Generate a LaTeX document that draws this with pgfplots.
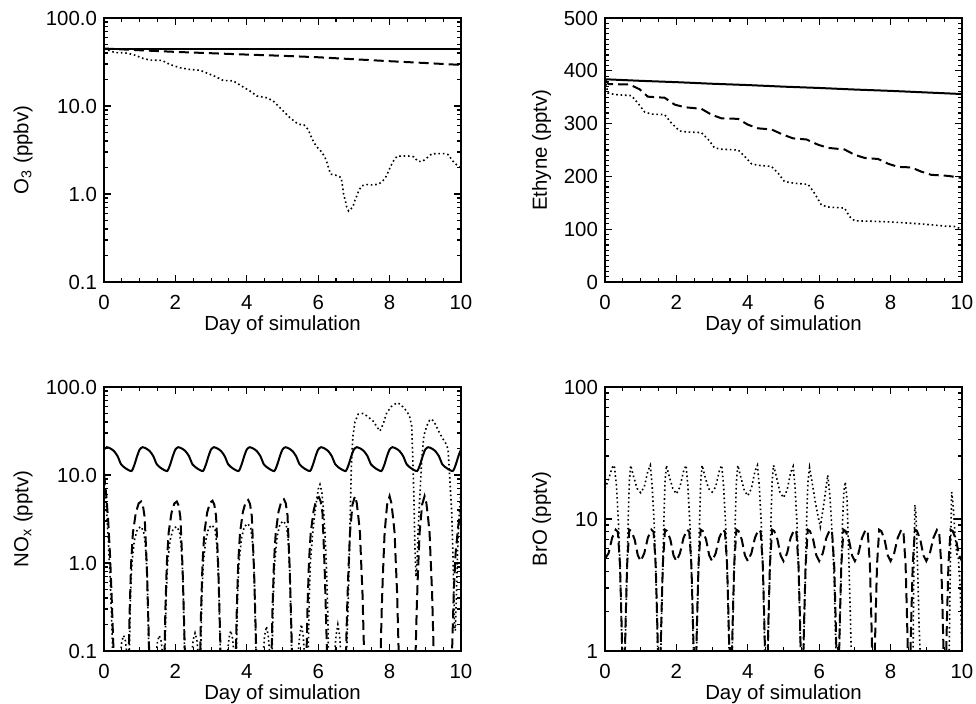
\documentclass[border=0pt]{standalone}
\usepackage{fontspec}
\setmainfont{Liberation Sans}
\usepackage{pgfplots}
\pgfplotsset{compat=1.18}
\newcommand{\ff}{\fontsize{10.2}{12}\selectfont}
\pgfplotsset{
 myax/.style={
  scale only axis, width=178.5pt, height=132pt,
  xmin=0, xmax=10, xtick={0,2,4,6,8,10}, xticklabels={0,2,4,6,8,10}, minor x tick num=3,
  axis line style={line width=0.65pt},
  every tick/.style={black, line width=0.55pt},
  major tick length=3.5pt, minor tick length=1.8pt,
  tick align=inside,
  ticklabel style={font=\ff},
  xticklabel style={yshift=-3.1pt},
  xlabel={Day of simulation},
  every axis x label/.style={at={(axis description cs:0.5,0)}, anchor=base, yshift=-24pt, font=\ff},
 },
 ylab/.style={every axis y label/.style={at={(axis description cs:0,0.5)}, xshift=-#1, rotate=90, anchor=south, inner sep=0pt, font=\ff}},
 solidl/.style={black, line width=1pt},
 dashl/.style={black, line width=1pt, dash pattern=on 5pt off 2.5pt},
 dotl/.style={black, line width=0.8pt, dash pattern=on 0.8pt off 1.4pt},
}
\begin{document}
\begin{tikzpicture}
\useasboundingbox (0,0) rectangle (488pt,351.5pt);
% Panel 1: O3
\begin{axis}[myax, at={(52pt,210.5pt)}, anchor=south west, ylab=35.5pt,
  ymode=log, ymin=0.1, ymax=100, ytick={0.1,1,10,100}, yticklabels={0.1,1.0,10.0,100.0},
  minor ytick={0.2,0.3,0.4,0.5,0.6,0.7,0.8,0.9,2,3,4,5,6,7,8,9,20,30,40,50,60,70,80,90},
  ylabel={O\textsubscript{3} (ppbv)}]
\addplot[solidl] coordinates {(0,45)(10,45)};
\addplot[dashl] coordinates {(0,45)(1,43)(2,41.2)(3,39.8)(4,38.4)(5,37.2)(6,35.8)(7,34)(8,32.3)(9,30.8)(10,29.3)};
\addplot[dotl] coordinates {(0,45)(0.3,40.5)(0.59,40.2)(0.82,38.4)(1.1,34.7)(1.29,33.2)(1.62,33)(1.85,29.6)(2.13,27.2)(2.41,26)(2.69,25.5)(2.88,23.7)(3.11,21.7)(3.34,19.5)(3.62,19.3)(3.86,16.8)(4.09,14.8)(4.28,13)(4.56,12.4)(4.74,11.4)(4.97,9.2)(5.2,7.4)(5.44,6.2)(5.6,6.1)(5.72,5.4)(5.82,4.3)(5.91,3.68)(6.0,3.29)(6.11,2.96)(6.19,2.6)(6.25,2.24)(6.3,1.92)(6.35,1.68)(6.5,1.63)(6.64,1.54)(6.67,1.33)(6.71,1.0)(6.76,0.84)(6.79,0.73)(6.85,0.64)(6.97,0.71)(7.02,0.83)(7.08,0.95)(7.13,1.08)(7.22,1.24)(7.36,1.28)(7.52,1.27)(7.68,1.29)(7.8,1.39)(7.9,1.58)(7.97,1.82)(8.04,2.11)(8.11,2.38)(8.21,2.69)(8.38,2.7)(8.53,2.7)(8.68,2.65)(8.79,2.35)(8.92,2.35)(9.06,2.6)(9.18,2.86)(9.37,2.88)(9.51,2.88)(9.65,2.79)(9.74,2.45)(9.85,2.19)(10,2.0)};
\end{axis}
% Panel 2: Ethyne
\begin{axis}[myax, at={(302.5pt,210.5pt)}, anchor=south west, ylab=26.8pt,
  ymin=0, ymax=500, ytick={0,100,200,300,400,500}, yticklabels={0,100,200,300,400,500},
  minor y tick num=9, ylabel={Ethyne (pptv)}]
\addplot[solidl] coordinates {(0,384)(1,381)(2,378.5)(3,375.5)(4,373)(5,370)(6,367.5)(7,364.5)(8,362)(9,359)(10,356)};
\addplot[dashl] coordinates {(0,383)(0.1,375)(0.69,374)(0.97,365)(1.2,351)(1.67,349)(1.95,336)(2.23,331)(2.7,328)(2.98,317)(3.26,310)(3.73,309)(4.0,298)(4.29,291)(4.66,289)(4.99,279)(5.27,272)(5.64,270)(5.97,260)(6.25,254)(6.71,251)(6.99,241)(7.27,235)(7.65,233)(7.93,224)(8.21,218)(8.58,217)(8.86,209)(9.14,203)(9.61,201)(10,197)};
\addplot[dotl] coordinates {(0,383)(0.08,358)(0.27,355)(0.74,353)(0.92,339)(1.11,322)(1.3,318)(1.67,317)(1.86,301)(2.09,286)(2.32,284)(2.7,283)(2.89,270)(3.07,254)(3.26,251.5)(3.73,250)(3.91,238)(4.1,224)(4.29,221)(4.66,219)(4.85,206)(5.03,190)(5.31,187)(5.69,185)(5.87,168)(6.06,146)(6.25,142)(6.71,140)(6.85,124)(6.99,116)(7.93,114)(8.86,110)(9.51,106)(9.8,105)(10,100)};
\end{axis}
% Panel 3: NOx
\begin{axis}[myax, at={(52pt,26pt)}, anchor=south west, ylab=35.5pt,
  ymode=log, ymin=0.1, ymax=100, ytick={0.1,1,10,100}, yticklabels={0.1,1.0,10.0,100.0},
  minor ytick={0.2,0.3,0.4,0.5,0.6,0.7,0.8,0.9,2,3,4,5,6,7,8,9,20,30,40,50,60,70,80,90},
  ylabel={NO\textsubscript{x} (pptv)}]
\addplot[solidl, smooth, tension=0.4] coordinates {
(0,19.5)(0.08,20.7)(0.18,20.0)(0.28,18.7)(0.38,16.4)(0.48,13.2)(0.62,11.8)(0.77,11.1)(0.85,13.0)(0.93,16.5)
(1,19.5)(1.08,20.7)(1.18,20.0)(1.28,18.7)(1.38,16.4)(1.48,13.2)(1.62,11.8)(1.77,11.1)(1.85,13.0)(1.93,16.5)
(2,19.5)(2.08,20.7)(2.18,20.0)(2.28,18.7)(2.38,16.4)(2.48,13.2)(2.62,11.8)(2.77,11.1)(2.85,13.0)(2.93,16.5)
(3,19.5)(3.08,20.7)(3.18,20.0)(3.28,18.7)(3.38,16.4)(3.48,13.2)(3.62,11.8)(3.77,11.1)(3.85,13.0)(3.93,16.5)
(4,19.5)(4.08,20.7)(4.18,20.0)(4.28,18.7)(4.38,16.4)(4.48,13.2)(4.62,11.8)(4.77,11.1)(4.85,13.0)(4.93,16.5)
(5,19.5)(5.08,20.7)(5.18,20.0)(5.28,18.7)(5.38,16.4)(5.48,13.2)(5.62,11.8)(5.77,11.1)(5.85,13.0)(5.93,16.5)
(6,19.5)(6.08,20.7)(6.18,20.0)(6.28,18.7)(6.38,16.4)(6.48,13.2)(6.62,11.8)(6.77,11.1)(6.85,13.0)(6.93,16.5)
(7,19.5)(7.08,20.7)(7.18,20.0)(7.28,18.7)(7.38,16.4)(7.48,13.2)(7.62,11.8)(7.77,11.1)(7.85,13.0)(7.93,16.5)
(8,19.5)(8.08,20.7)(8.18,20.0)(8.28,18.7)(8.38,16.4)(8.48,13.2)(8.62,11.8)(8.77,11.1)(8.85,13.0)(8.93,16.5)
(9,19.5)(9.08,20.7)(9.18,20.0)(9.28,18.7)(9.38,16.4)(9.48,13.2)(9.62,11.8)(9.77,11.1)(9.85,13.0)(9.93,16.5)
(10,19.5)};
\addplot[dashl] coordinates {
(0,10.5)(0.03,8)(0.07,5.5)(0.12,2.9)(0.17,1.2)(0.21,0.46)(0.26,0.12)(0.28,0.01)
(0.67,0.01)(0.69,0.08)(0.72,0.3)(0.76,1.0)(0.81,2.2)(0.89,3.7)(0.97,4.75)(1.04,5.0)(1.09,4.5)(1.14,3.3)(1.2,0.9)(1.25,0.17)(1.27,0.08)(1.29,0.01)
(1.67,0.01)(1.69,0.08)(1.72,0.3)(1.76,1.0)(1.81,2.2)(1.89,3.7)(1.97,4.75)(2.04,5.0)(2.09,4.5)(2.14,3.3)(2.2,0.9)(2.25,0.17)(2.27,0.08)(2.29,0.01)
(2.67,0.01)(2.69,0.08)(2.72,0.3)(2.76,1.0)(2.81,2.2)(2.89,3.75)(2.97,4.85)(3.04,5.1)(3.09,4.6)(3.14,3.4)(3.2,0.9)(3.25,0.17)(3.27,0.08)(3.29,0.01)
(3.67,0.01)(3.69,0.08)(3.72,0.3)(3.76,1.0)(3.81,2.2)(3.89,3.8)(3.97,4.95)(4.04,5.2)(4.09,4.7)(4.14,3.4)(4.2,0.9)(4.25,0.17)(4.27,0.08)(4.29,0.01)
(4.67,0.01)(4.69,0.08)(4.72,0.3)(4.76,1.0)(4.81,2.2)(4.89,3.85)(4.97,5.05)(5.04,5.3)(5.09,4.8)(5.14,3.5)(5.2,0.9)(5.25,0.17)(5.27,0.08)(5.29,0.01)
(5.65,0.01)(5.67,0.08)(5.7,0.3)(5.74,1.0)(5.79,2.2)(5.87,3.9)(5.95,5.3)(6.02,5.6)(6.07,5.0)(6.12,3.7)(6.18,0.9)(6.23,0.17)(6.25,0.08)(6.27,0.01)
(6.76,0.01)(6.78,0.1)(6.81,0.3)(6.84,0.7)(6.89,2.2)(6.96,4.6)(7.03,5.75)(7.08,4.8)(7.13,3.2)(7.17,2.2)(7.2,1.1)(7.24,0.46)(7.27,0.16)(7.29,0.08)(7.31,0.01)
(7.73,0.01)(7.75,0.1)(7.78,0.3)(7.81,0.7)(7.86,2.2)(7.93,4.6)(8.0,5.75)(8.05,4.8)(8.1,3.2)(8.14,2.2)(8.17,1.1)(8.21,0.46)(8.24,0.16)(8.26,0.08)(8.28,0.01)
(8.71,0.01)(8.73,0.1)(8.76,0.3)(8.79,0.7)(8.84,2.2)(8.91,4.6)(8.98,5.75)(9.03,4.8)(9.08,3.2)(9.12,2.2)(9.15,1.1)(9.19,0.46)(9.22,0.16)(9.24,0.08)(9.26,0.01)
(9.72,0.01)(9.75,0.1)(9.8,0.5)(9.85,1.3)(9.92,2.6)(10,4.0)};
\addplot[dotl] coordinates {
(0,10)(0.03,7)(0.07,4)(0.12,1.8)(0.17,0.7)(0.21,0.25)(0.25,0.08)(0.27,0.01)
(0.43,0.01)(0.45,0.085)(0.5,0.13)(0.55,0.15)(0.6,0.13)(0.65,0.085)(0.67,0.01)
(0.69,0.01)(0.71,0.1)(0.74,0.4)(0.78,1.0)(0.85,1.8)(0.93,2.4)(1.03,2.6)(1.11,2.3)(1.16,1.6)(1.21,0.7)(1.24,0.2)(1.26,0.08)(1.28,0.01)
(1.43,0.01)(1.45,0.085)(1.5,0.13)(1.55,0.15)(1.6,0.13)(1.65,0.085)(1.67,0.01)
(1.69,0.01)(1.71,0.1)(1.74,0.4)(1.78,1.0)(1.85,1.8)(1.93,2.4)(2.03,2.6)(2.11,2.3)(2.16,1.6)(2.21,0.7)(2.24,0.2)(2.26,0.08)(2.28,0.01)
(2.43,0.01)(2.45,0.085)(2.5,0.135)(2.55,0.16)(2.6,0.135)(2.65,0.085)(2.67,0.01)
(2.69,0.01)(2.71,0.1)(2.74,0.4)(2.78,1.0)(2.85,1.8)(2.93,2.5)(3.03,2.7)(3.11,2.4)(3.16,1.6)(3.21,0.7)(3.24,0.2)(3.26,0.08)(3.28,0.01)
(3.43,0.01)(3.45,0.085)(3.5,0.14)(3.55,0.17)(3.6,0.14)(3.65,0.085)(3.67,0.01)
(3.69,0.01)(3.71,0.1)(3.74,0.4)(3.78,1.0)(3.85,1.9)(3.93,2.6)(4.03,2.8)(4.11,2.5)(4.16,1.7)(4.21,0.7)(4.24,0.2)(4.26,0.08)(4.28,0.01)
(4.43,0.01)(4.45,0.085)(4.5,0.15)(4.55,0.19)(4.6,0.15)(4.65,0.085)(4.67,0.01)
(4.69,0.01)(4.71,0.1)(4.74,0.4)(4.78,1.0)(4.85,2.0)(4.93,2.8)(5.03,3.0)(5.11,2.65)(5.16,1.8)(5.21,0.7)(5.24,0.2)(5.26,0.08)(5.28,0.01)
(5.41,0.01)(5.43,0.085)(5.48,0.15)(5.53,0.2)(5.58,0.15)(5.62,0.085)(5.64,0.01)
(5.7,0.01)(5.72,0.1)(5.75,0.4)(5.78,1.0)(5.85,2.3)(5.91,3.8)(6.0,6.9)(6.05,7.8)(6.1,6.5)(6.14,4.4)(6.19,2.2)(6.23,0.92)(6.27,0.25)(6.29,0.08)(6.31,0.01)
(6.43,0.01)(6.45,0.085)(6.5,0.15)(6.55,0.2)(6.6,0.15)(6.64,0.085)(6.66,0.01)
(6.78,0.01)(6.8,0.1)(6.84,0.35)(6.87,1.1)(6.9,4)(6.93,13)(6.97,27)(7.03,40)(7.12,49)(7.25,50)(7.36,47)(7.54,41)(7.65,35)(7.73,31.6)(7.82,38)(7.92,51)(8.05,60)(8.2,66)(8.3,64)(8.43,56)(8.55,48)(8.62,36)(8.65,15)(8.68,5.7)(8.71,1.5)(8.74,0.7)(8.77,1.0)(8.8,2.4)(8.85,6)(8.9,15)(8.96,28)(9.04,36)(9.12,42)(9.18,43)(9.25,40)(9.32,35)(9.4,30)(9.5,25.5)(9.6,22)(9.64,19)(9.68,10)(9.74,3.8)(9.78,1.0)(9.8,0.42)(9.82,0.2)(9.84,0.17)(9.87,0.4)(9.9,1.2)(9.94,3)(10,7)};
\end{axis}
% Panel 4: BrO
\begin{axis}[myax, at={(302.5pt,26pt)}, anchor=south west, ylab=26.8pt,
  ymode=log, ymin=1, ymax=100, ytick={1,10,100}, yticklabels={1,10,100},
  minor ytick={2,3,4,5,6,7,8,9,20,30,40,50,60,70,80,90},
  ylabel={BrO (pptv)}]
\addplot[dashl] coordinates {
(0,5.0)(0.1,5.5)(0.2,7.2)(0.3,8.3)(0.36,8.0)(0.42,4.5)(0.46,1.8)(0.49,0.8)(0.52,0.3)(0.55,0.8)(0.58,1.8)(0.62,4.5)(0.68,8.3)(0.74,8.1)(0.83,7.0)(0.92,5.3)
(1,4.8)(1.1,5.5)(1.2,7.2)(1.3,8.3)(1.36,8.0)(1.42,4.5)(1.46,1.8)(1.49,0.8)(1.52,0.3)(1.55,0.8)(1.58,1.8)(1.62,4.5)(1.68,8.3)(1.74,8.1)(1.83,7.0)(1.92,5.3)
(2,4.8)(2.1,5.5)(2.2,7.2)(2.3,8.3)(2.36,8.0)(2.42,4.5)(2.46,1.8)(2.49,0.8)(2.52,0.3)(2.55,0.8)(2.58,1.8)(2.62,4.5)(2.68,8.3)(2.74,8.1)(2.83,7.0)(2.92,5.3)
(3,4.8)(3.1,5.5)(3.2,7.2)(3.3,8.3)(3.36,8.0)(3.42,4.5)(3.46,1.8)(3.49,0.8)(3.52,0.3)(3.55,0.8)(3.58,1.8)(3.62,4.5)(3.68,8.3)(3.74,8.1)(3.83,7.0)(3.92,5.3)
(4,4.8)(4.1,5.5)(4.2,7.2)(4.3,8.3)(4.36,8.0)(4.42,4.5)(4.46,1.8)(4.49,0.8)(4.52,0.3)(4.55,0.8)(4.58,1.8)(4.62,4.5)(4.68,8.3)(4.74,8.1)(4.83,7.0)(4.92,5.3)
(5,4.8)(5.1,5.5)(5.2,7.2)(5.3,8.3)(5.36,8.0)(5.42,4.5)(5.46,1.8)(5.49,0.8)(5.52,0.3)(5.55,0.8)(5.58,1.8)(5.62,4.5)(5.68,8.3)(5.74,8.1)(5.83,7.0)(5.92,5.3)
(6,4.8)(6.1,5.5)(6.2,7.2)(6.3,8.3)(6.36,8.0)(6.42,4.5)(6.46,1.8)(6.49,0.8)(6.52,0.3)(6.55,0.8)(6.58,1.8)(6.62,4.5)(6.68,8.3)(6.74,8.1)(6.83,7.0)(6.92,5.3)
(7,4.8)(7.1,5.5)(7.2,7.2)(7.3,8.3)(7.36,8.0)(7.42,4.5)(7.46,1.8)(7.49,0.8)(7.52,0.3)(7.55,0.8)(7.58,1.8)(7.62,4.5)(7.68,8.3)(7.74,8.1)(7.83,7.0)(7.92,5.3)
(8,4.8)(8.1,5.5)(8.2,7.2)(8.3,8.3)(8.36,8.0)(8.42,4.5)(8.46,1.8)(8.49,0.8)(8.52,0.3)(8.55,0.8)(8.58,1.8)(8.62,4.5)(8.68,8.3)(8.74,8.1)(8.83,7.0)(8.92,5.3)
(9,4.8)(9.1,5.5)(9.2,7.2)(9.3,8.3)(9.36,8.0)(9.42,4.5)(9.46,1.8)(9.49,0.8)(9.52,0.3)(9.55,0.8)(9.58,1.8)(9.62,4.5)(9.68,8.3)(9.74,8.1)(9.83,7.0)(9.92,5.3)
(10,4.8)};
\addplot[dotl] coordinates {
(0,17)(0.1,20)(0.2,24.5)(0.26,25.5)(0.32,18)(0.38,9)(0.43,3.5)(0.47,1.2)(0.52,0.3)(0.57,1.2)(0.61,3.5)(0.65,10)(0.68,19)(0.72,25.5)(0.8,21)(0.9,17)(1.0,15.8)(1.1,17.5)(1.2,23)(1.27,25.5)
(1.32,18)(1.38,9)(1.43,3.5)(1.47,1.2)(1.52,0.3)(1.57,1.2)(1.61,3.5)(1.65,10)(1.68,19)(1.72,25.5)(1.8,21)(1.9,17)(2.0,15.5)(2.1,17.5)(2.2,23)(2.27,25.5)
(2.32,18)(2.38,9)(2.43,3.5)(2.47,1.2)(2.52,0.3)(2.57,1.2)(2.61,3.5)(2.65,10)(2.68,19)(2.72,25.5)(2.8,21)(2.9,17)(3.0,16)(3.1,17.5)(3.2,23)(3.27,25.5)
(3.32,18)(3.38,9)(3.43,3.5)(3.47,1.2)(3.52,0.3)(3.57,1.2)(3.61,3.5)(3.65,10)(3.68,19)(3.72,25.5)(3.8,21)(3.9,16.5)(4.0,15)(4.1,17)(4.2,23)(4.27,25.5)
(4.32,18)(4.38,9)(4.43,3.5)(4.47,1.2)(4.52,0.3)(4.57,1.2)(4.61,3.5)(4.65,10)(4.68,19)(4.72,25.5)(4.8,21)(4.9,16)(5.0,14.5)(5.1,16.5)(5.2,22.5)(5.27,25)
(5.32,18)(5.38,9)(5.43,3.5)(5.47,1.2)(5.52,0.3)(5.57,1.2)(5.61,3.5)(5.65,10)(5.68,18.5)(5.73,24.5)(5.8,19)(5.9,13)(6.03,8.7)(6.13,13)(6.24,21.5)
(6.3,15)(6.36,8)(6.42,3.5)(6.46,1.2)(6.52,0.3)(6.57,1.2)(6.61,3.5)(6.65,9)(6.69,16)(6.73,19.1)(6.78,14)(6.83,5)(6.87,2)(6.9,0.9)(6.93,0.3)
(8.6,0.3)(8.63,1)(8.65,4)(8.68,12.8)(8.71,11)(8.76,4)(8.8,1.5)(8.85,0.7)(8.9,0.3)(9.62,0.3)(9.65,1.5)(9.68,6)(9.71,16)(9.75,13)(9.8,8)(9.85,5.5)(9.9,5)(9.95,3)(10,1)};
\end{axis}
\end{tikzpicture}
\end{document}
